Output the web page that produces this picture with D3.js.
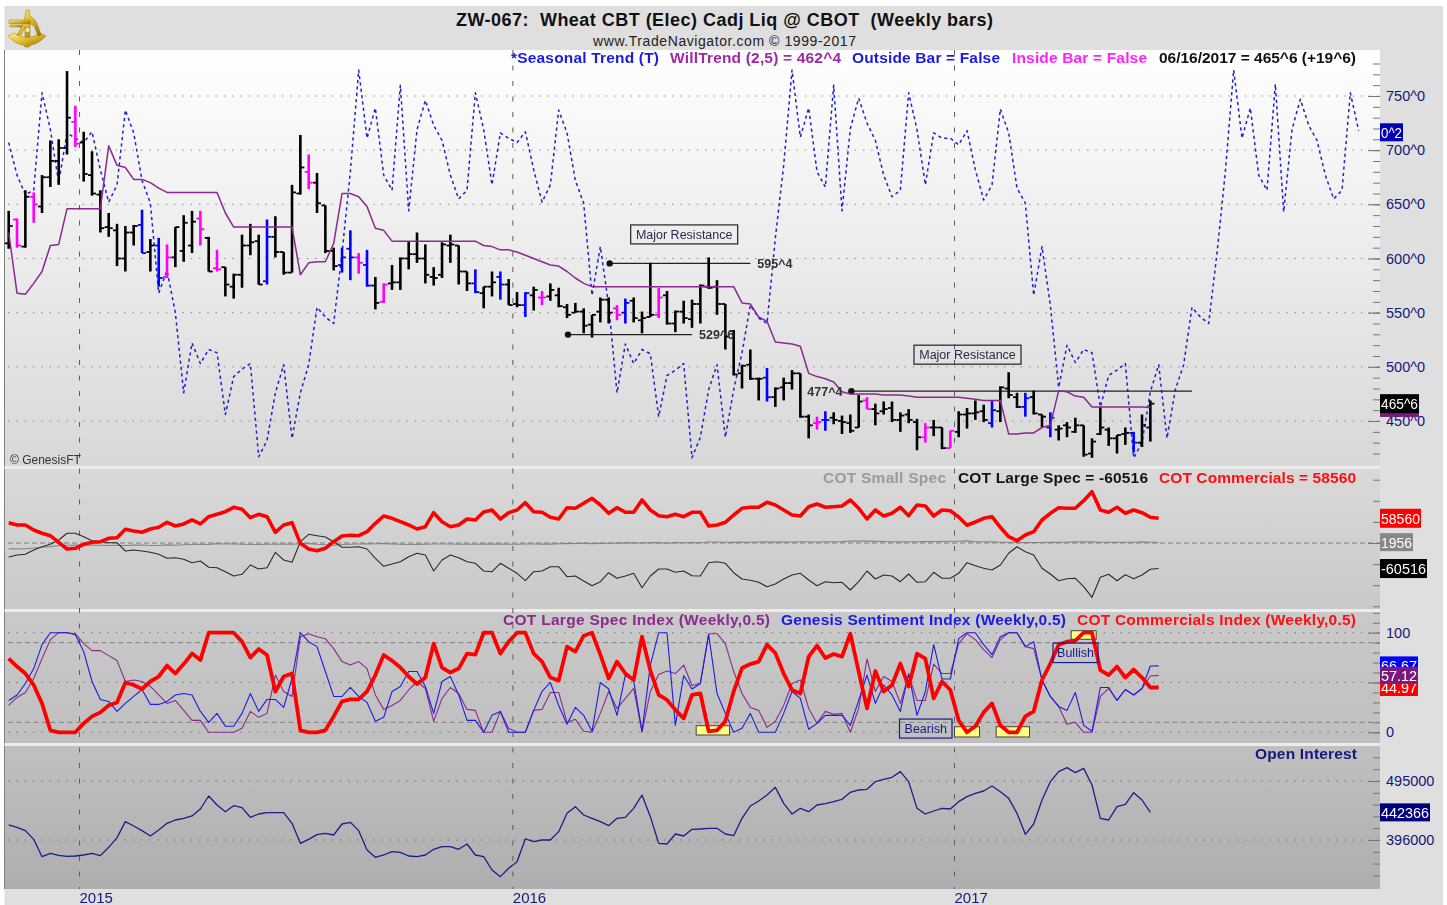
<!DOCTYPE html>
<html>
<head>
<meta charset="utf-8">
<script src="https://cdn.jsdelivr.net/npm/d3@7"></script>
<style>
  html, body { margin: 0; padding: 0; background: #fff; }
  svg { display: block; filter: blur(0.3px); }
  text { font-family: "Liberation Sans", Arial, sans-serif; }
</style>
</head>
<body>
<div id="chart"></div>
<script>
// weekly bars, one value per week starting at firstWeek
const firstWeek = new Date(Date.UTC(2014, 9, 31));
const weekCount = 165;
const yearStarts = [9, 61, 114]; // first bar of 2015, 2016, 2017
const yearLabels = ["2015", "2016", "2017"];

const highs = [644,637,663,661,677,709,710,773,741,717,
  699,663,642,632,630,631,645,618,619,613,
  629,640,644,644,620,608,592,586,622,632,
  622,636,639,606,668,714,696,679,649,610,
  610,626,605,608,583,577,594,601,616,624,
  613,592,615,622,612,588,590,574,588,588,
  581,569,569,574,570,577,573,558,559,554,
  548,564,564,557,563,564,551,596,573,570,
  552,561,562,576,601,580,558,534,502,516,
  490,499,481,490,497,494,456,454,459,458,
  455,456,474,472,466,468,468,458,461,452,
  448,451,444,441,459,462,469,465,469,482,
  495,476,476,478,456,458,446,449,453,446,
  434,463,444,437,444,440,456,469];
const lows = [609,610,610,633,642,666,668,696,703,671,
  658,624,620,593,588,612,605,588,574,582,
  592,597,605,612,588,588,565,563,573,603,
  576,576,601,585,587,659,664,642,605,589,
  587,580,586,574,553,559,571,571,590,596,
  577,575,582,596,576,570,568,554,565,562,
  557,555,546,552,557,561,555,545,550,531,
  527,541,540,543,540,541,531,546,545,539,
  532,540,536,540,572,548,516,492,480,488,
  469,468,463,469,479,453,434,442,441,447,
  438,439,444,461,446,456,449,440,448,423,
  430,436,424,425,435,443,451,449,444,449,
  471,462,454,456,444,435,432,435,439,417,
  416,437,427,420,428,421,426,431];
const opens = [614,636,611,657,648,675,690,702,726,707,
  677,659,629,626,600,624,631,606,612,583,
  601,607,612,637,619,591,592,574,585,612,
  616,579,620,606,587,660,680,670,649,607,
  594,609,601,594,575,560,577,578,600,604,
  600,583,585,612,612,588,577,568,574,583,
  576,558,557,566,564,565,566,555,550,551,
  539,551,562,554,550,561,543,546,548,566,
  540,551,544,558,574,574,558,533,494,502,
  489,490,472,481,485,494,454,448,451,453,
  450,448,444,469,461,459,462,451,456,449,
  435,444,444,425,440,456,457,459,448,459,
  480,472,463,472,456,444,442,446,440,446,
  420,438,442,434,438,439,430,444];
const closes = [630,612,657,650,675,690,702,730,706,678,
  660,628,628,600,624,630,605,612,582,601,
  629,633,634,627,588,590,576,585,612,615,
  576,620,606,587,661,684,670,651,607,593,
  601,601,596,575,559,576,578,600,604,600,
  585,582,613,613,588,577,569,574,578,576,
  557,557,568,571,564,571,556,548,551,538,
  548,562,550,548,559,545,545,548,564,540,
  551,545,558,575,573,558,528,493,501,489,
  489,472,480,485,494,454,446,449,451,451,
  449,441,468,461,457,461,451,455,451,435,
  444,444,425,441,456,457,458,451,460,481,
  474,463,471,457,454,453,443,444,446,419,
  431,444,434,437,439,430,446,466];

// bars flagged by the study, coloured differently
const outsideBars = [16,18,31,40,41,43,56,59,62,74,91,98,118,122,125,135];
const insideBars = [1,3,8,19,23,25,36,42,45,64,73,78,97,103,110,113];

const seasonal = [707,677,659,663,753,719,670,716,711,707,
  717,682,652,668,737,716,672,651,568,589,
  550,476,522,503,516,513,456,491,498,503,
  417,432,476,502,434,476,502,555,546,540,
  605,680,774,711,739,677,663,760,644,719,
  746,723,709,677,655,663,753,719,668,716,
  711,707,717,682,652,668,737,716,672,651,
  566,611,557,476,521,503,516,512,454,492,
  497,503,416,435,479,502,435,479,513,557,
  545,540,619,686,774,712,739,680,666,760,
  644,720,748,725,709,677,657,663,753,719,
  668,716,711,711,705,718,682,654,668,738,
  716,665,651,566,611,557,481,520,504,516,
  513,463,492,497,503,416,430,477,502,434,
  479,502,555,546,540,605,680,774,711,739,
  677,663,761,643,719,747,723,709,677,655,
  663,753,718];

const willTrend = [624,568,567,577,588,612,613,646,646,646,
  646,646,704,686,684,673,673,670,665,661,
  661,661,661,661,661,661,642,629,629,629,
  629,629,629,629,629,585,596,597,597,614,
  660,660,657,648,628,626,616,616,616,616,
  616,616,616,616,616,616,616,612,611,608,
  608,606,603,600,597,594,593,588,582,577,
  574,574,574,574,574,574,574,574,574,574,
  574,574,574,574,574,574,574,574,559,558,
  546,542,523,522,521,519,494,491,489,486,
  477,475,475,475,475,474,474,474,473,472,
  472,472,472,472,472,471,470,469,469,469,
  438,438,439,439,444,446,478,477,473,472,
  463,463,463,463,463,463,463,462.5];

const levelValues = [595.5, 529.75, 477.5];
const levelLabels = ["595^4", "529^6", "477^4"];
const levelFrom = [72, 67, 101];
const levelTo = [89, 82, 142];

const cotCommercials = [48100,42660,42660,30810,22990,17300,1660,-14220,-12560,-3080,
  1660,3080,11140,12560,32470,28440,25360,33180,37210,49060,
  40290,45030,54510,45030,62330,68020,74180,84610,79870,59960,
  68020,62330,25360,42660,48110,-710,-14220,-18250,-12560,3080,
  16590,18250,17300,26780,46690,63990,58540,50480,42660,33180,
  38630,71810,50480,38630,42660,56880,54510,73470,78210,56880,
  71810,78210,95510,74180,72760,60910,56880,83660,82240,94090,
  105940,90060,70390,83660,72760,72760,101910,78210,64700,62330,
  68020,62330,72760,72760,40290,42660,49060,66360,82240,84610,
  84610,96460,90060,78210,66360,63990,86030,92430,84610,86030,
  87690,101910,82240,56880,78210,63990,70390,84610,64700,90060,
  87690,63990,78210,76550,61620,41950,49770,58540,62330,37210,
  14930,5450,18960,26780,54510,70390,83660,82240,82240,100250,
  121580,78210,72760,84610,70390,78210,71810,60910,58560];

const cotLargeSpec = [-33180,-28440,-26780,-16590,-8770,-3080,7110,22990,22990,14930,
  5450,3080,710,710,-18960,-16590,-18960,-22040,-26780,-36260,
  -34840,-38630,-46690,-42660,-57590,-58540,-68020,-78210,-74180,-52140,
  -61620,-58540,-22040,-40290,-45740,3080,20620,17300,14220,3080,
  -10190,-10190,-8770,-14220,-36260,-55220,-49770,-44320,-32470,-24410,
  -28440,-66360,-40290,-28440,-34840,-44320,-48110,-66360,-68020,-48110,
  -59960,-71810,-89350,-68020,-66360,-56170,-56170,-79870,-78210,-90060,
  -101200,-91720,-70390,-83660,-78210,-71810,-105940,-78210,-61620,-61620,
  -69440,-66360,-77500,-78210,-46690,-44320,-48110,-70390,-85320,-88400,
  -93140,-103570,-97170,-85320,-75840,-71810,-87690,-101200,-91720,-94090,
  -93140,-111390,-91720,-66360,-85320,-75840,-78210,-91720,-73470,-93140,
  -91720,-69440,-83660,-83660,-71810,-46690,-53800,-59960,-63990,-52140,
  -24410,-8770,-20620,-28440,-59960,-73470,-89350,-84610,-83660,-103570,
  -128690,-81290,-74180,-89350,-75130,-84610,-75840,-62330,-60516];

const cotSmallSpec = [-14000,-14000,-13500,-12000,-10000,-8500,-6000,-5500,-5000,-4500,
  -5000,-5500,-6000,-5500,-6000,-5000,-4800,-6000,-6000,-4500,
  -5500,-4000,-3500,-3000,-3500,-1500,-2500,-2000,-3000,-3500,
  -3500,-2800,-3000,-2500,-3000,-1800,-1500,-3000,-4000,-5500,
  -3500,-2800,-2500,-2000,-1800,-1500,-2000,-2800,-3500,-3300,
  -3000,-2500,-2500,-2400,-2800,-3000,-2900,-2600,-2700,-2500,
  -2800,-2900,-2300,-2500,-2700,-2600,-1800,-1500,-1200,-1000,
  -1500,-800,-500,-200,200,300,-100,1000,800,-500,
  800,600,1000,600,2500,2200,1800,1500,2000,1800,
  2500,2700,2000,2000,2500,2800,2900,2500,2800,2900,
  3200,4800,4500,4500,3800,3500,2800,2600,2800,3000,
  3200,3500,3500,4000,4200,5000,2800,2800,2700,1900,
  1800,1500,900,1100,1300,1800,1600,1900,2700,2800,
  2700,1700,1800,1600,1900,1600,2700,1900,1956];

const commercialsIndex = [74,66,59,47.5,29,2,0,0,0,9,
  16,20,27,30,50,47.5,43.5,51,56,67,
  59,68.5,79,72.5,100,100,100,100,91,75,
  83.6,77.6,41,56,59,2,0,0,2,16,
  31,33,33,41,57.5,77.6,72,65,56,48.5,
  55,89,65,60,64,79,78,100,100,79,
  91,100,100,79,71,55,52,86,81,97,
  100,78,54,71,59,52.5,96,62,37.5,32.5,
  22.5,14,37.5,39,1,2,11,41,64.5,68.5,
  71,88,79.5,59,42.5,39,76,87,74.6,78.6,
  76,99,61,24,61.5,41,47.5,69,46,79,
  74,34,51,42.5,12,0,6,20,29,7,
  0,0,16,21,52.5,69,88,91,92,100,
  100,62.5,57.5,66,55,63,55,45,44.97];

const largeSpecIndex = [27,35,40,54,74,93,100,100,99,89,
  82,82,77,72,51,52.5,51,46,37.5,29,
  32,22,12,12,0,0,0,0,4,21,
  15,19,57.5,41,36,96,99,96,94,84,
  71,67.5,71,64,37.5,23,27,32,42.5,51,
  44,11,34,45,39,23,22,0,0,21,
  4,0,0,22,23,40,40,10,13,1,
  0,19,41,24,34,44,0,41,58,61.5,
  59,67.5,47,49,99,99,89,61,39,25,
  22,5,11,27,49,52.5,24,9,21,18,
  19,0,24,73.6,41,56,51,29,57.5,32,
  32,68.5,59,59,89,99,93,83,75,93,
  100,100,86,84,52.5,36,26,8,10,0,
  0,36,44,32,43,37.5,44,56.5,57.12];

const sentimentIndex = [32,37.5,49,64,88,100,100,100,98,81,
  51,33,31,21,29,36,43,28,28,31,
  37.5,39,37.5,21,10,19,6,6,19,39,
  21,33,33,25,54,100,91,86,61,36,
  36,45,36,30,11,15,41,46,61,61,
  46,19,51,56,37.5,12,12,0,17,21,
  0,0,0,22,41,50,27,8,25,17,
  1,50,43.5,17,57.5,51.5,1,67.5,100,100,
  7,57,43.5,49,98,39,19,0,4,19,
  0,0,0,19,41,34,3,9,17,17,
  17,7,32,57.5,29,47.5,37.5,21,59,17,
  41,88,53.5,53.5,94,100,100,88,78,96,
  100,100,86,91,52.5,36,26,22,40,7,
  1,45,45,32,43,37.5,44,66.5,66.67];

const openInterest = [421180,417260,411670,397130,368050,373640,370290,368610,369170,370840,
  373640,369720,383700,399920,426770,419500,411670,402720,412790,423980,
  429570,432360,436280,448020,469840,454740,443550,453620,450260,434040,
  439630,441870,441870,441870,423980,390420,397130,404960,407200,404400,
  422860,425650,411670,379230,366930,370840,376430,375310,369170,368050,
  370840,380350,384820,384820,380350,389300,370840,368050,345670,334490,
  348470,359660,397690,393210,396010,396010,410000,440750,451940,437960,
  432360,426770,420060,432360,434040,449140,471520,435160,390420,389300,
  406080,402720,413910,414470,415590,415590,406080,403280,432360,453060,
  461450,471520,484380,457530,439630,449140,443550,454740,456970,460330,
  464250,476000,479910,481020,493890,497800,501160,510670,493890,449140,
  439630,444670,449140,448020,460330,468710,474310,478220,486610,477100,
  465920,440750,405510,422850,463120,493880,510660,517370,508980,516250,
  488290,432360,429560,451930,455850,475420,463120,442366];

const priceMajor = [750, 700, 650, 600, 550, 500, 450];
const cotMajor = [0];
const indexMajor = [100, 50, 0];
const oiMajor = [495000, 396000];

// yellow extreme markers, in weeks: [start, end) and index-value top/bottom
const extremeFrom = [83, 114, 119, 128];
const extremeTo = [87, 117, 123, 131];
const extremeTop = [6.6, 5.6, 5.6, 102];
const extremeBottom = [-2.7, -4.7, -4.7, 93.4];

const width = 1447;
const height = 905;
const frameLeft = 4.5;
const plotRight = 1380;
const frameRight = 1443;

const navy = "#16167e";

const weeks = d3.range(weekCount).map((i) => d3.utcDay.offset(firstWeek, i * 7));

const x = d3.scaleBand(weeks, [4.53, 1379.5]);
const cx = (i) => x(weeks[i]) + x.bandwidth() / 2;

const yPrice = d3.scaleLinear([750, 450], [96, 421]);
const yCot = d3.scaleLinear([0, 50000], [543, 521.9]);
const yIndex = d3.scaleLinear([0, 100], [732.3, 632.7]);
const yOi = d3.scaleLinear([396000, 495000], [840, 781]);

const svg = d3
  .select("#chart")
  .append("svg")
  .attr("width", width)
  .attr("height", height)
  .attr("viewBox", [0, 0, width, height]);

const panels = [
  { id: "p1", top: 50, bottom: 466, from: "#ffffff", to: "#d8d8d8" },
  { id: "p2", top: 469, bottom: 609, from: "#d9d9d9", to: "#c9c9c9" },
  { id: "p3", top: 612, bottom: 743, from: "#c9c9c9", to: "#bfbfbf" },
  { id: "p4", top: 746, bottom: 889, from: "#c0c0c0", to: "#aeaeae" },
];

const defs = svg.append("defs");
panels.forEach((p) => {
  const grad = defs
    .append("linearGradient")
    .attr("id", p.id)
    .attr("x1", 0)
    .attr("x2", 0)
    .attr("y1", 0)
    .attr("y2", 1);
  grad.append("stop").attr("offset", 0).attr("stop-color", p.from);
  grad.append("stop").attr("offset", 1).attr("stop-color", p.to);
});
const gold = defs
  .append("linearGradient")
  .attr("id", "gold")
  .attr("x1", 0)
  .attr("x2", 1)
  .attr("y1", 0)
  .attr("y2", 1);
gold.append("stop").attr("offset", 0).attr("stop-color", "#fff0a0");
gold.append("stop").attr("offset", 0.5).attr("stop-color", "#e0b820");
gold.append("stop").attr("offset", 1).attr("stop-color", "#8a6a10");

// frame and panel backgrounds
svg
  .append("rect")
  .attr("x", frameLeft)
  .attr("y", 6)
  .attr("width", frameRight - frameLeft)
  .attr("height", height - 6)
  .attr("fill", "#dfdfdf");

svg
  .selectAll("rect.panel")
  .data(panels)
  .join("rect")
  .attr("class", "panel")
  .attr("x", frameLeft)
  .attr("y", (p) => p.top)
  .attr("width", plotRight - frameLeft)
  .attr("height", (p) => p.bottom - p.top)
  .attr("fill", (p) => `url(#${p.id})`);

svg
  .append("line")
  .attr("x1", frameLeft)
  .attr("x2", frameLeft)
  .attr("y1", 50)
  .attr("y2", 889)
  .attr("stroke", "#808080")
  .attr("stroke-width", 1);

// separators between the panes
svg
  .selectAll("rect.sep")
  .data([466, 609, 743])
  .join("rect")
  .attr("class", "sep")
  .attr("x", frameLeft)
  .attr("y", (d) => d)
  .attr("width", plotRight - frameLeft)
  .attr("height", 3)
  .attr("fill", "#ececec");

// logo, a small brass sextant
const logo = svg.append("g").attr("fill", "url(#gold)").attr("stroke", "#9a7a10").attr("stroke-width", 0.5);
logo.append("path").attr("d", "M8 36 L14 33 Q27 42 40 33 L46 36 Q38 44 31 45 L29 47 L25 47 L23 45 Q15 44 8 36 Z");
logo.append("path").attr("d", "M26 10 L29 10 L30 16 L35 20 L38 26 L41 35 L38 36 L34 26 L30 24 L30 37 L25 37 L25 27 L21 35 L17 35 L24 22 Z");
logo.append("circle").attr("cx", 27.5).attr("cy", 30).attr("r", 2.5).attr("fill", "#f6e9a0");
logo.append("rect").attr("x", 9).attr("y", 20).attr("width", 21).attr("height", 3.5);
logo.append("rect").attr("x", 10).attr("y", 25).attr("width", 12).attr("height", 2);

// title
svg
  .append("text")
  .attr("x", 724.5)
  .attr("y", 26)
  .attr("text-anchor", "middle")
  .attr("font-size", 18)
  .attr("font-weight", 700)
  .attr("textLength", 537)
  .attr("fill", "#111")
  .attr("xml:space", "preserve")
  .text("ZW-067:  Wheat CBT (Elec) Cadj Liq @ CBOT  (Weekly bars)");

svg
  .append("text")
  .attr("x", 724.5)
  .attr("y", 46)
  .attr("text-anchor", "middle")
  .attr("font-size", 14)
  .attr("textLength", 263)
  .attr("fill", "#222")
  .text("www.TradeNavigator.com © 1999-2017");

// grid
function hGrid(values, y, dash, color) {
  svg
    .append("g")
    .selectAll("line")
    .data(values)
    .join("line")
    .attr("x1", 8)
    .attr("x2", plotRight)
    .attr("y1", y)
    .attr("y2", y)
    .attr("stroke", color)
    .attr("stroke-width", 1)
    .attr("stroke-dasharray", dash);
}

const dots = "1.5,6.8";
hGrid(priceMajor, yPrice, dots, "#8a8a8a");
hGrid(cotMajor, yCot, "5,3", "#7a7a7a");
hGrid(indexMajor, yIndex, dots, "#777");
hGrid([90, 10], yIndex, "5,3.5", "#808080");
hGrid(oiMajor, yOi, dots, "#707070");

svg
  .append("g")
  .selectAll("line")
  .data(yearStarts)
  .join("line")
  .attr("x1", (i) => x(weeks[i]))
  .attr("x2", (i) => x(weeks[i]))
  .attr("y1", 50)
  .attr("y2", 889)
  .attr("stroke", "#5c5c5c")
  .attr("stroke-width", 1)
  .attr("stroke-dasharray", "5,10.5");

// right hand tick marks
function ticks(y, minorValues, majorValues) {
  svg
    .append("g")
    .attr("transform", `translate(${plotRight},0)`)
    .call(d3.axisLeft(y).tickValues(minorValues).tickSize(7).tickFormat(""))
    .call((g) => g.select(".domain").remove())
    .call((g) => g.selectAll("line").attr("stroke", "#777"));
  svg
    .append("g")
    .attr("transform", `translate(${plotRight},0)`)
    .call(d3.axisLeft(y).tickValues(majorValues).tickSize(12).tickFormat(""))
    .call((g) => g.select(".domain").remove())
    .call((g) => g.selectAll("line").attr("stroke", "#777"));
}

function tickLabels(y, values, format) {
  svg
    .append("g")
    .attr("transform", `translate(${plotRight},0)`)
    .call(d3.axisRight(y).tickValues(values).tickSize(0).tickPadding(6).tickFormat(format))
    .call((g) => g.select(".domain").remove())
    .call((g) =>
      g
        .selectAll("text")
        .attr("font-family", "Liberation Sans")
        .attr("font-size", 14.5)
        .attr("fill", navy)
    );
}

ticks(yPrice, d3.range(420, 790, 10), priceMajor);
ticks(yCot, d3.range(-150000, 170001, 50000), cotMajor);
ticks(yIndex, d3.range(0, 121, 10), indexMajor);
ticks(yOi, d3.range(336600, 535000, 19800), oiMajor);

tickLabels(yPrice, priceMajor, (d) => `${d}^0`);
tickLabels(yIndex, indexMajor, (d) => d);
tickLabels(yOi, oiMajor, (d) => d);

// year labels along the bottom
svg
  .append("g")
  .selectAll("text")
  .data(yearStarts)
  .join("text")
  .attr("x", (i) => x(weeks[i]))
  .attr("y", 902.5)
  .attr("font-size", 15)
  .attr("fill", navy)
  .text((d, i) => yearLabels[i]);

const lineOf = (y) =>
  d3
    .line()
    .x((d, i) => cx(i))
    .y((d) => y(d));

function drawLine(values, y, color, lw, dash) {
  svg
    .append("path")
    .attr("d", lineOf(y)(values))
    .attr("fill", "none")
    .attr("stroke", color)
    .attr("stroke-width", lw)
    .attr("stroke-linejoin", "round")
    .attr("stroke-dasharray", dash || null);
}

// price pane
drawLine(seasonal, yPrice, "#2020d0", 1.5, "3.2,3.2");

// support and resistance levels
levelValues.forEach((v, k) => {
  svg
    .append("line")
    .attr("x1", cx(levelFrom[k]))
    .attr("x2", cx(levelTo[k]))
    .attr("y1", yPrice(v))
    .attr("y2", yPrice(v))
    .attr("stroke", "#222")
    .attr("stroke-width", 1.3);
  svg
    .append("circle")
    .attr("cx", cx(levelFrom[k]) + 1)
    .attr("cy", yPrice(v))
    .attr("r", 3.2)
    .attr("fill", "#111");
});

const barColor = (i) =>
  outsideBars.includes(i) ? "#0000ff" : insideBars.includes(i) ? "#ff00ff" : "#000";

const bars = svg.append("g").selectAll("g").data(highs).join("g").attr("stroke", (d, i) => barColor(i));

bars
  .append("line")
  .attr("x1", (d, i) => cx(i))
  .attr("x2", (d, i) => cx(i))
  .attr("y1", (d) => yPrice(d))
  .attr("y2", (d, i) => yPrice(lows[i]))
  .attr("stroke-width", 2.6);

bars
  .append("line")
  .attr("x1", (d, i) => cx(i) - 4)
  .attr("x2", (d, i) => cx(i))
  .attr("y1", (d, i) => yPrice(opens[i]))
  .attr("y2", (d, i) => yPrice(opens[i]))
  .attr("stroke-width", 1.8);

bars
  .append("line")
  .attr("x1", (d, i) => cx(i))
  .attr("x2", (d, i) => cx(i) + 4)
  .attr("y1", (d, i) => yPrice(closes[i]))
  .attr("y2", (d, i) => yPrice(closes[i]))
  .attr("stroke-width", 1.8);

drawLine(willTrend, yPrice, "#8a2a8e", 1.5);

// level labels
const levelLabelX = [cx(levelTo[0]) + 7, cx(levelTo[1]) + 7, cx(levelFrom[2]) - 43];
levelLabels.forEach((t, k) => {
  svg
    .append("text")
    .attr("x", levelLabelX[k])
    .attr("y", yPrice(levelValues[k]) + 4.5)
    .attr("font-size", 12.5)
    .attr("font-weight", 700)
    .attr("fill", "#333")
    .text(t);
});

function noteBox(x0, y0, w, h, label, stroke, color) {
  svg
    .append("rect")
    .attr("x", x0)
    .attr("y", y0)
    .attr("width", w)
    .attr("height", h)
    .attr("fill", "none")
    .attr("stroke", stroke)
    .attr("stroke-width", 1.2);
  svg
    .append("text")
    .attr("x", x0 + w / 2)
    .attr("y", y0 + h / 2 + 4.5)
    .attr("text-anchor", "middle")
    .attr("font-size", 12.5)
    .attr("fill", color)
    .text(label);
}

noteBox(cx(81) - 53, yPrice(631), 107, 19, "Major Resistance", "#222", "#2a2a4a");
noteBox(cx(115) - 53, yPrice(520), 107, 19, "Major Resistance", "#222", "#2a2a4a");

// cot pane
drawLine(cotSmallSpec, yCot, "#858585", 1.1);
drawLine(cotLargeSpec, yCot, "#2a2a2a", 1.1);
drawLine(cotCommercials, yCot, "#ff0000", 3.6);

// index pane
svg
  .append("g")
  .selectAll("rect")
  .data(extremeFrom)
  .join("rect")
  .attr("x", (d) => x(weeks[d]))
  .attr("y", (d, i) => yIndex(extremeTop[i]))
  .attr("width", (d, i) => x(weeks[extremeTo[i]]) - x(weeks[d]))
  .attr("height", (d, i) => yIndex(extremeBottom[i]) - yIndex(extremeTop[i]))
  .attr("fill", "#ffff80")
  .attr("stroke", "#444")
  .attr("stroke-width", 1);

drawLine(largeSpecIndex, yIndex, "#8a2a8e", 1.1);
drawLine(sentimentIndex, yIndex, "#1c1ce6", 1.1);
drawLine(commercialsIndex, yIndex, "#ff0000", 3.8);

noteBox(899.5, yIndex(13.3), 52.5, 19, "Bearish", "#1a1a90", "#1a1a80");
noteBox(1053, yIndex(89.6), 45, 19.5, "Bullish", "#1a1a90", "#1a1a80");

// open interest pane
drawLine(openInterest, yOi, "#1c1c8c", 1.3);

// pane legends
function legend(items, yBase) {
  svg
    .append("g")
    .selectAll("text")
    .data(items)
    .join("text")
    .attr("x", (d) => d[0])
    .attr("y", yBase)
    .attr("textLength", (d) => d[1])
    .attr("lengthAdjust", "spacing")
    .attr("font-size", 15.5)
    .attr("font-weight", 700)
    .attr("fill", (d) => d[2])
    .text((d) => d[3]);
}

legend(
  [
    [511, 148, "#1a1ae6", "*Seasonal Trend (T)"],
    [670, 171, "#a028a4", "WillTrend (2,5) = 462^4"],
    [852, 148, "#1a1ae6", "Outside Bar = False"],
    [1012, 135, "#ff22ff", "Inside Bar = False"],
    [1159, 197, "#111", "06/16/2017 = 465^6 (+19^6)"],
  ],
  63
);

legend(
  [
    [823, 123, "#9a9a9a", "COT Small Spec"],
    [958, 190, "#151515", "COT Large Spec = -60516"],
    [1159, 197, "#ff1010", "COT Commercials = 58560"],
  ],
  483
);

legend(
  [
    [503, 267, "#8c2a90", "COT Large Spec Index (Weekly,0.5)"],
    [781, 285, "#1a1ae6", "Genesis Sentiment Index (Weekly,0.5)"],
    [1077, 279, "#ff1010", "COT Commercials Index (Weekly,0.5)"],
  ],
  625
);

legend([[1255, 102, "#16167e", "Open Interest"]], 759);

svg
  .append("text")
  .attr("x", 10)
  .attr("y", 464)
  .attr("font-size", 12)
  .attr("fill", "#333")
  .text("© GenesisFT");

// value tags in the right margin
function tag(yPos, w, h, bg, label) {
  svg
    .append("rect")
    .attr("x", plotRight)
    .attr("y", yPos - h / 2)
    .attr("width", w)
    .attr("height", h)
    .attr("fill", bg);
  if (!label) return;
  svg
    .append("text")
    .attr("x", plotRight + 1)
    .attr("y", yPos + 5.5)
    .attr("font-size", 15)
    .attr("textLength", w - 2)
    .attr("lengthAdjust", "spacingAndGlyphs")
    .attr("fill", "#fff")
    .text(label);
}

tag(yPrice(716.5), 23, 18, "#0000b4", "0^2");
tag(yPrice(willTrend[137]), 39, 19, "#7b1a7e", null); // hidden behind the close tag
tag(yPrice(closes[137]), 39, 19, "#000", "465^6");

tag(yCot(cotCommercials[138]), 41, 19, "#ff0000", "58560");
tag(yCot(cotSmallSpec[138]), 33, 18, "#878787", "1956");
tag(yCot(cotLargeSpec[138]), 47, 19, "#000", "-60516");

tag(yIndex(sentimentIndex[138]), 38, 19, "#0000ff", "66.67");
tag(yIndex(commercialsIndex[138]), 38, 17, "#ff0000", "44.97");
tag(yIndex(largeSpecIndex[138]), 38, 17, "#7b1a7e", "57.12");

tag(yOi(openInterest[137]), 50, 18, "#00007c", "442366");
</script>
</body>
</html>
